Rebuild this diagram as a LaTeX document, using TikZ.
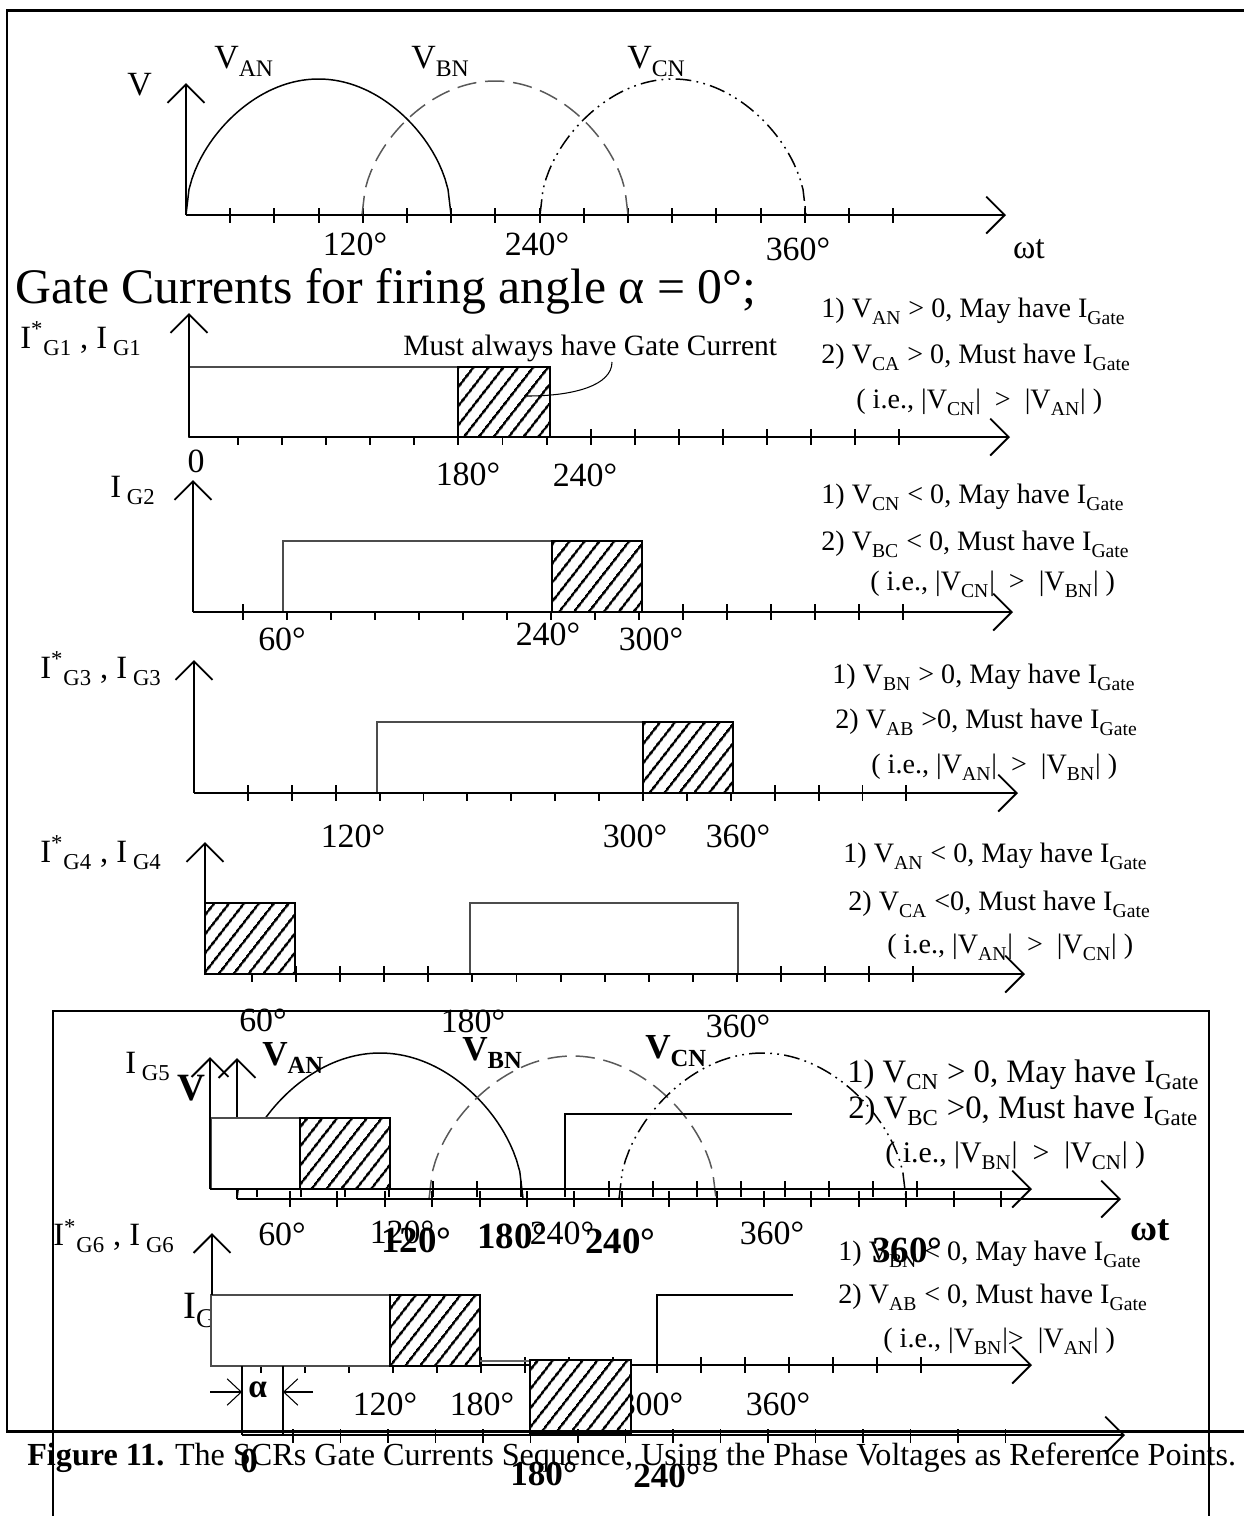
\documentclass[tikz,border=0pt]{standalone}
\usepackage{fontspec}
\setmainfont{Liberation Serif}
\usetikzlibrary{arrows.meta,patterns.meta}

\newcommand{\fs}[1]{\fontsize{#1}{#1}\selectfont}
\newcommand{\sub}[1]{\raisebox{-0.1em}{\textsubscript{#1}}}

\begin{document}
\begin{tikzpicture}[x=0.02cm,y=-0.02cm,
  axis/.style={line width=1.5pt,-{Straight Barb[length=10.5pt,width=21pt,line width=1.1pt]}},
  tick/.style={line width=1.1pt},
  frame/.style={line width=1.7pt},
  pulse/.style={draw=black!70,line width=1.1pt,fill=white},
  hatched/.style={draw,line width=1.4pt,preaction={fill=white},pattern={Lines[angle=52,distance=6.5pt,line width=1.4pt]}},
  stepline/.style={line width=1.3pt},
  van/.style={line width=0.85pt},
  vbn/.style={line width=0.85pt,black!65,dash pattern=on 11pt off 5pt},
  vcn/.style={line width=0.85pt,dash pattern=on 9pt off 3pt on 1pt off 3pt on 1pt off 3pt},
  lbl/.style={anchor=base west,inner sep=0pt,font=\fs{19.3}},
  deg/.style={anchor=base,inner sep=0pt,font=\fs{19.3}},
  glabel/.style={anchor=base west,inner sep=0pt,font=\fs{18.5}},
  cond/.style={anchor=base west,inner sep=0pt,font=\fs{16}},
  bigcond/.style={anchor=base west,inner sep=0pt,font=\fs{18.6}},
  bvlab/.style={anchor=base west,inner sep=0pt,font=\fs{20}\bfseries},
  bdeg/.style={anchor=base west,inner sep=0pt,font=\fs{21}\bfseries},
]
\useasboundingbox (0,0) rectangle (1244,1516);

% phase voltages
\coordinate (ov) at (186,215);
\foreach \k in {1,...,16} \draw[tick] ({186+44.2*\k},208) -- ++(0,15);
\draw[van] plot[domain=0:180,samples=90] ({186+\x/180*265},{215-136*sqrt(abs(sin(\x)))});
\draw[vbn] plot[domain=0:180,samples=90] ({362+\x/180*266},{215-134*sqrt(abs(sin(\x)))});
\draw[vcn] plot[domain=0:180,samples=90] ({540+\x/180*266},{215-136*sqrt(abs(sin(\x)))});
\draw[axis] (ov) -- (186,83);
\draw[axis] (ov) -- (1006,215);
\node[lbl] (vlab) at (127,95) {V};
\node[lbl] (vanlab) at (214,68) {V\sub{AN}};
\node[lbl] (vbnlab) at (411,68) {V\sub{BN}};
\node[lbl] (vcnlab) at (627,68) {V\sub{CN}};
\node[deg] (a120) at (355,255) {120°};
\node[deg] (a240) at (537,255) {240°};
\node[deg] (a360) at (798,260) {360°};
\node[deg] (awt) at (1029,258) {ωt};
\node[anchor=base west,inner sep=0pt,font=\fs{28.3}] (title) at (15,303) {Gate Currents for firing angle α = 0°;};

% gate 1
\coordinate (o1) at (189,437);
\foreach \k in {1,...,16} \draw[tick] ({194+44.07*\k},429) -- ++(0,16);
\draw[pulse] (o1) rectangle (458,367);
\draw[hatched] (458,437) rectangle (550,367);
\draw[axis] (o1) -- (189,313);
\draw[axis] (o1) -- (1010,437);
\draw[line width=0.6pt] (612,362) .. controls (612,385) and (575,396) .. (527,396);
\node[glabel] (g1lab) at (20,348) {I\textsuperscript{*}\sub{G1} , I\sub{ G1}};
\node[cond,font=\fs{16.8}] (must) at (403,355) {Must always have Gate Current};
\node[deg] (b0) at (196,472) {0};
\node[deg] (b180) at (468,485) {180°};
\node[deg] (b240) at (585,486) {240°};
\node[cond] (c11) at (821,317) {1) V\sub{AN} > 0, May have I\sub{Gate}};
\node[cond] (c12) at (821,363) {2) V\sub{CA} > 0, Must have I\sub{Gate}};
\node[cond] (c13) at (856,408) {( i.e., |V\sub{CN}|\ \ >\ \ |V\sub{AN}| )};

% gate 2
\coordinate (o2) at (193,612);
\foreach \k in {1,...,16} \draw[tick] ({199+44*\k},604) -- ++(0,16);
\draw[pulse] (283,612) rectangle (552,541);
\draw[hatched] (552,612) rectangle (642,541);
\draw[axis] (o2) -- (193,480);
\draw[axis] (o2) -- (1013,612);
\node[glabel] (g2lab) at (110,497) {I\sub{ G2}};
\node[deg] (d60) at (282,650) {60°};
\node[deg] (d240) at (548,645) {240°};
\node[deg] (d300) at (651,650) {300°};
\node[cond] (c21) at (821,503) {1) V\sub{CN} < 0, May have I\sub{Gate}};
\node[cond] (c22) at (821,550) {2) V\sub{BC} < 0, Must have I\sub{Gate}};
\node[cond] (c23) at (870,590) {( i.e., |V\sub{CN}|\ \ >\ \ |V\sub{BN}| )};

% gate 3
\coordinate (o3) at (194,793);
\foreach \k in {1,...,16} \draw[tick] ({204+43.9*\k},785) -- ++(0,16);
\draw[pulse] (377,793) rectangle (643,722);
\draw[hatched] (643,793) rectangle (733,722);
\draw[axis] (o3) -- (194,660);
\draw[axis] (o3) -- (1018,793);
\node[glabel] (g3lab) at (40,678) {I\textsuperscript{*}\sub{G3} , I\sub{ G3}};
\node[deg] (e120) at (353,847) {120°};
\node[deg] (e300) at (635,847) {300°};
\node[deg] (e360) at (738,847) {360°};
\node[cond] (c31) at (832,683) {1) V\sub{BN} > 0, May have I\sub{Gate}};
\node[cond] (c32) at (835,728) {2) V\sub{AB} >0, Must have I\sub{Gate}};
\node[cond] (c33) at (871,773) {( i.e., |V\sub{AN}|\ \ >\ \ |V\sub{BN}| )};

% gate 4
\coordinate (o4) at (205,974);
\foreach \k in {1,...,16} \draw[tick] ({208+44.07*\k},966) -- ++(0,16);
\draw[hatched] (o4) rectangle (295,903);
\draw[pulse] (470,974) rectangle (738,903);
\draw[axis] (o4) -- (205,842);
\draw[axis] (o4) -- (1025,974);
\node[glabel] (g4lab) at (40,862) {I\textsuperscript{*}\sub{G4} , I\sub{ G4}};
\node[cond] (c41) at (843,862) {1) V\sub{AN} < 0, May have I\sub{Gate}};
\node[cond] (c42) at (848,910) {2) V\sub{CA} <0, Must have I\sub{Gate}};
\node[cond] (c43) at (887,953) {( i.e., |V\sub{AN}|\ \ >\ \ |V\sub{CN}| )};

% second frame
\draw[frame,line width=1.4pt] (53,1516) -- (53,1011) -- (1209,1011) -- (1209,1516);
\node[deg] (f60) at (263,1031) {60°};
\node[deg] (f180) at (473,1032) {180°};
\node[deg] (f360) at (738,1037) {360°};

% overlaid phase voltages
\coordinate (ow) at (237,1199);
\foreach \k in {0,...,15} \draw[tick] ({290+47.4*\k},1191) -- ++(0,16);
\draw[van] plot[domain=0:180,samples=90] ({237+\x/180*286},{1199-146*sqrt(abs(sin(\x)))});
\draw[vbn] plot[domain=0:180,samples=90] ({429+\x/180*287},{1199-143*sqrt(abs(sin(\x)))});
\draw[vcn] plot[domain=0:180,samples=90] ({619+\x/180*287},{1199-146*sqrt(abs(sin(\x)))});
\draw[axis] (ow) -- (237,1058);
\draw[axis] (ow) -- (1121,1199);
\node[bvlab,font=\fs{22}\bfseries] (vbold) at (177,1100) {V};
\node[bvlab] (vanb) at (262,1065) {V\sub{AN}};
\node[bvlab] (vbnb) at (462,1060) {V\sub{BN}};
\node[bvlab] (vcnb) at (645,1058) {V\sub{CN}};

% gate 5
\coordinate (o5) at (210,1189);
\foreach \k in {1,...,16} \draw[tick] ({213+44*\k},1181) -- ++(0,16);
\draw[pulse] (211,1189) rectangle (300,1118);
\draw[hatched] (300,1189) rectangle (390,1118);
\draw[stepline] (565,1189) -- (565,1114) -- (792,1114);
\draw[axis] (o5) -- (210,1057);
\draw[axis] (o5) -- (1032,1189);
\node[glabel] (g5lab) at (125,1073) {I\sub{ G5}};
\node[bigcond] (c51) at (847,1082) {1) V\sub{CN} > 0, May have I\sub{Gate}};
\node[bigcond] (c52) at (848,1118) {2) V\sub{BC} >0, Must have I\sub{Gate}};
\node[cond,font=\fs{17}] (c53) at (885,1162) {( i.e., |V\sub{BN}|\ \ >\ \ |V\sub{CN}| )};
\node[deg] (h60) at (282,1245) {60°};
\node[deg] (h120) at (402,1243) {120°};
\node[deg] (h240) at (562,1244) {240°};
\node[deg] (h360) at (772,1244) {360°};
\node[bdeg] (k120) at (381,1252) {120°};
\node[bdeg] (k180) at (477,1248) {180°};
\node[bdeg] (k240) at (585,1253) {240°};
\node[bdeg] (k360) at (872,1262) {360°};
\node[bdeg] (kwt) at (1130,1240) {ωt};

% gate 6
\coordinate (o6) at (211,1365);
\node[glabel] (g6lab) at (53,1245) {I\textsuperscript{*}\sub{G6} , I\sub{ G6}};
\node[bigcond,font=\fs{22}] (igbig) at (183,1318) {I\sub{G6}};
\node[deg] (m120) at (385,1415) {120°};
\node[deg] (m180) at (482,1415) {180°};
\node[deg] (m300) at (651,1415) {300°};
\node[deg] (m360) at (778,1415) {360°};
\foreach \k in {0,...,15} \draw[tick] ({261+44*\k},1357) -- ++(0,16);
\draw[axis] (o6) -- (1032,1365);
\draw[pulse] (211,1366) rectangle (390,1295);
\draw[hatched] (390,1366) rectangle (480,1295);
\draw[black!60,line width=0.8pt] (480,1361) -- (530,1361);
\draw[hatched] (530,1433) rectangle (631,1360);
\draw[stepline] (657,1365) -- (657,1295) -- (793,1295);
\draw[axis] (212,1295) -- (212,1233);
\node[cond] (c61) at (838,1260) {1) V\sub{BN} < 0, May have I\sub{Gate}};
\node[cond] (c62) at (838,1303) {2) V\sub{AB} < 0, Must have I\sub{Gate}};
\node[cond] (c63) at (883,1347) {( i.e., |V\sub{BN}|>\ \ |V\sub{AN}| )};

% firing angle
\draw[line width=0.8pt] (242,1366) -- (242,1435);
\draw[line width=0.8pt] (283,1366) -- (283,1435);
\coordinate (al) at (210,1392);
\coordinate (ar) at (313,1392);
\draw[line width=0.6pt,-{Straight Barb[length=8pt,width=15pt]}] (al) -- (242,1392);
\draw[line width=0.6pt,-{Straight Barb[length=8pt,width=15pt]}] (ar) -- (283,1392);
\node[anchor=base west,inner sep=0pt,font=\fs{19}\bfseries] (alpha) at (248,1397) {α};

% bottom axis
\coordinate (o7) at (242,1435);
\foreach \k in {0,...,15} \draw[tick] ({293+47.5*\k},1429) -- ++(0,14);
\draw[axis] (o7) -- (1125,1435);

% caption
\node[anchor=base west,inner sep=0pt,font=\fs{18.3}] (caption) at (27,1465) {\textbf{Figure 11.} The SCRs Gate Currents Sequence, Using the Phase Voltages as Reference Points.};
\node[anchor=base west,inner sep=0pt,font=\fs{20}\bfseries] (n0) at (240,1472) {0};
\node[anchor=base west,inner sep=0pt,font=\fs{20}\bfseries] (n180) at (510,1485) {180°};
\node[anchor=base west,inner sep=0pt,font=\fs{20}\bfseries] (n240) at (633,1487) {240°};

% outer frame
\draw[frame] (1244,10) -- (7,10) -- (7,1431) -- (1244,1431);
\end{tikzpicture}
\end{document}
